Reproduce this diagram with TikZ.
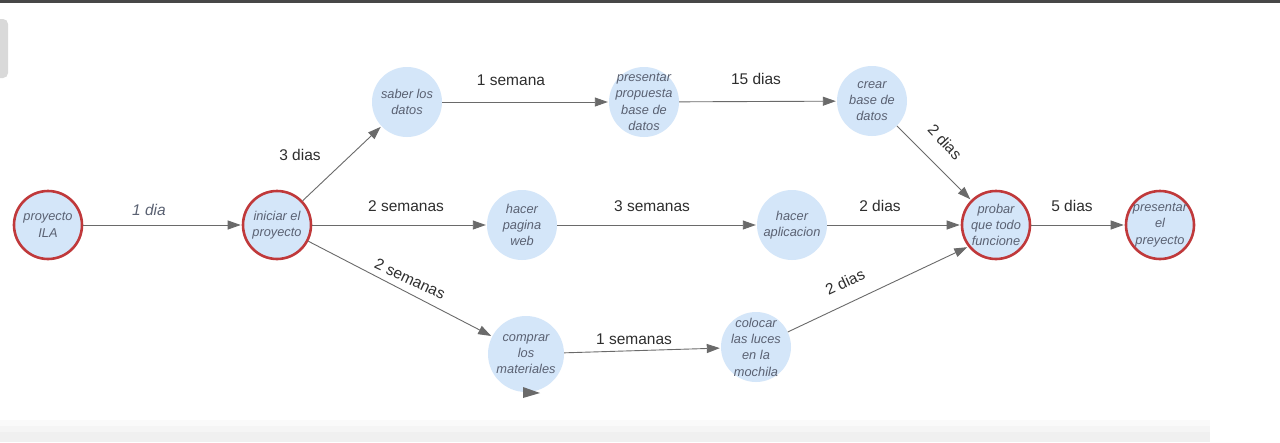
\documentclass[tikz,border=0pt]{standalone}
\usepackage{fontspec}
\setmainfont{Liberation Sans}
\usetikzlibrary{arrows.meta}
\definecolor{nodefill}{HTML}{D4E6F9}
\definecolor{nodered}{HTML}{C0393B}
\definecolor{nodetext}{HTML}{5A6172}
\definecolor{edgegray}{HTML}{6A6A6A}
\definecolor{labeltext}{HTML}{2E2E2E}
\tikzset{
  ttext/.style={align=center, text=nodetext, inner sep=0pt,
    font=\fontsize{12.8}{16.3}\selectfont\itshape},
  tx/.style={label={[ttext]center:{#1}}},
  task/.style={circle, fill=nodefill, minimum size=70pt, inner sep=0pt},
  milestone/.style={task, draw=nodered, line width=2.6pt, minimum size=68pt},
  conn/.style={draw=edgegray, line width=0.9pt, -{Triangle[length=13pt,width=9pt]}, shorten >=1pt},
  lbl/.style={text=labeltext, font=\fontsize{15.5}{17}\selectfont, inner sep=1pt},
  ilbl/.style={text=nodetext, font=\fontsize{15.5}{17}\selectfont\itshape, inner sep=1pt}
}
\begin{document}
\begin{tikzpicture}[x=1pt,y=-1pt]
\useasboundingbox (0,0) rectangle (1280,442);
\fill[white] (0,0) rectangle (1280,442);
% window chrome
\fill[black!72] (0,0) rectangle (1280,3);
\fill[gray!30, rounded corners=5pt] (-8,19) rectangle (8,78);
\fill[black!2] (0,420) rectangle (1210,426);
\fill[black!4] (0,426) rectangle (1210,432);
\fill[black!6] (0,432) rectangle (1210,442);

% nodes
\node[milestone, tx={proyecto\\ILA}] (ila) at (48,225) {};
\node[milestone, tx={iniciar el\\proyecto}] (ini) at (277,225) {};
\node[task, tx={saber los\\datos}] (sab) at (407,102) {};
\node[task, tx={presentar\\propuesta\\base de\\datos}] (pre) at (644,102) {};
\node[task, tx={crear\\base de\\datos}] (cre) at (872,101) {};
\node[task, tx={hacer\\pagina\\web}] (pag) at (522,225) {};
\node[task, tx={hacer\\aplicacion}] (apl) at (792,225) {};
\node[task, minimum size=76pt, tx={comprar\\los\\materiales}] (com) at (526,354) {};
\node[task, tx={colocar\\las luces\\en la\\mochila}] (col) at (756,347) {};
\node[milestone, tx={probar\\que todo\\funcione}] (pro) at (996,225) {};
\node[milestone, tx={presentar\\el\\preyecto}] (pel) at (1160,225) {};

% connectors
\draw[conn] (ila) -- (ini);
\draw[conn] (ini) -- (sab);
\draw[conn] (ini) -- (pag);
\draw[conn] (ini) -- (com);
\draw[conn] (sab) -- (pre);
\draw[conn] (pre) -- (cre);
\draw[conn] (cre) -- (pro);
\draw[conn] (pag) -- (apl);
\draw[conn] (apl) -- (pro);
\draw[conn] (com) -- (col);
\draw[conn] (col) -- (pro.218);
\draw[conn] (pro) -- (pel);
% stray arrowhead under "comprar los materiales"
\fill[edgegray] (523,387) -- (540,393) -- (523,398) -- cycle;

% labels
\node[ilbl] (l1) at (149,210) {1 dia};
\node[lbl] (l2) at (300,155) {3 dias};
\node[lbl] (l3) at (406,206) {2 semanas};
\node[lbl, rotate=-25] (l4) at (410,279) {2 semanas};
\node[lbl] (l5) at (511,80) {1 semana};
\node[lbl] (l6) at (756,79) {15 dias};
\node[lbl, rotate=-47] (l7) at (945,142) {2 dias};
\node[lbl] (l8) at (652,206) {3 semanas};
\node[lbl] (l9) at (880,206) {2 dias};
\node[lbl] (l10) at (634,339) {1 semanas};
\node[lbl, rotate=25] (l11) at (845,282) {2 dias};
\node[lbl] (l12) at (1072,206) {5 dias};
\end{tikzpicture}
\end{document}
